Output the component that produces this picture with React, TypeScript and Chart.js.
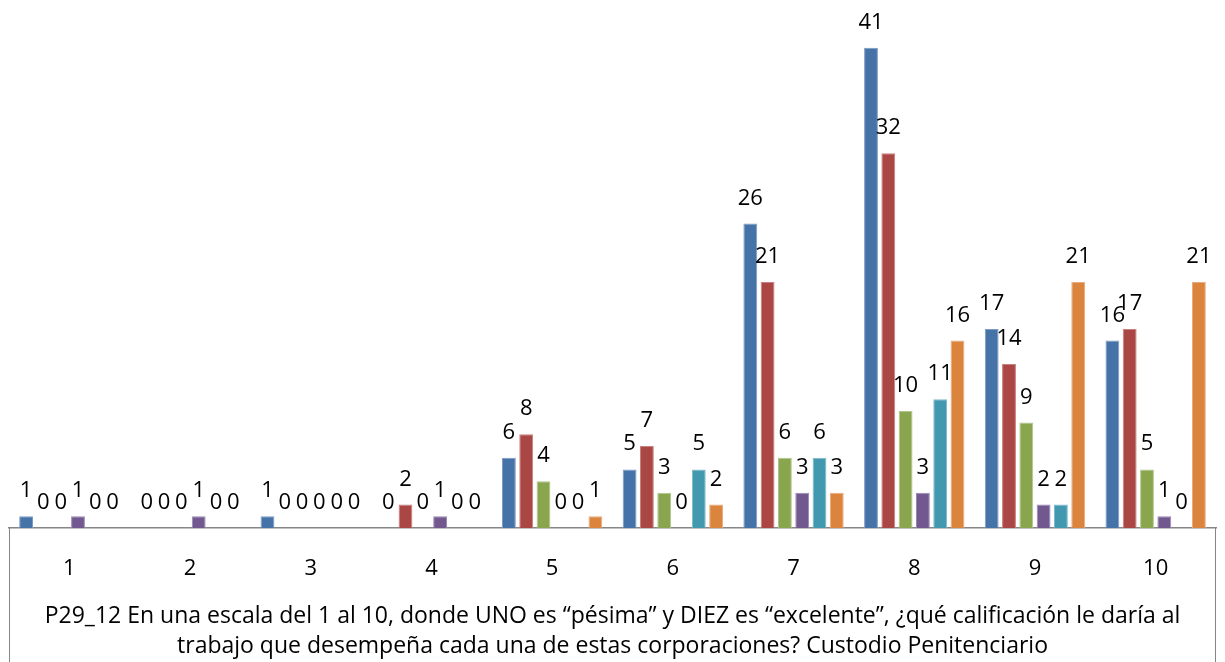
import { useEffect, useRef } from "react";
import { Chart, registerables } from "chart.js";

Chart.register(...registerables);

const categories = ["1", "2", "3", "4", "5", "6", "7", "8", "9", "10"];
const serie1 = [1, 0, 1, 0, 6, 5, 26, 41, 17, 16];
const serie2 = [0, 0, 0, 2, 8, 7, 21, 32, 14, 17];
const serie3 = [0, 0, 0, 0, 4, 3, 6, 10, 9, 5];
const serie4 = [1, 1, 0, 1, 0, 0, 3, 3, 2, 1];
const serie5 = [0, 0, 0, 0, 0, 5, 6, 11, 2, 0];
const serie6 = [0, 0, 0, 0, 1, 2, 3, 16, 21, 21];
const seriesNames = ["Serie 1", "Serie 2", "Serie 3", "Serie 4", "Serie 5", "Serie 6"];
const titleLines = [
  "P29_12 En una escala del 1 al 10, donde UNO es \u201cp\u00e9sima\u201d y DIEZ es \u201cexcelente\u201d, \u00bfqu\u00e9 calificaci\u00f3n le dar\u00eda al",
  "trabajo que desempe\u00f1a cada una de estas corporaciones? Custodio Penitenciario",
];

const colors = ["#4572A7", "#AA4643", "#89A54E", "#71588F", "#4198AF", "#DB843D"];
const edgeColors = ["#7E9BC4", "#C8807E", "#B0C68C", "#9C88B4", "#7EBACB", "#EAAB7D"];
const FONT = "'Open Sans', 'Noto Sans', sans-serif";

const labelPlugin = {
  id: "barValueLabels",
  afterDatasetsDraw(chart: any) {
    const ctx = chart.ctx;
    ctx.save();
    ctx.font = `22px ${FONT}`;
    ctx.fillStyle = "#000";
    ctx.textAlign = "center";
    ctx.textBaseline = "alphabetic";
    chart.data.datasets.forEach((ds: any, i: number) => {
      const meta = chart.getDatasetMeta(i);
      meta.data.forEach((el: any, j: number) => {
        ctx.fillText(String(ds.data[j]), el.x, el.y - 19);
      });
    });
    ctx.restore();
  },
};

const boxPlugin = {
  id: "axisBox",
  afterDraw(chart: any) {
    const ctx = chart.ctx;
    const { left, right, bottom } = chart.chartArea;
    ctx.save();
    ctx.strokeStyle = "#868686";
    ctx.lineWidth = 1;
    ctx.beginPath();
    ctx.moveTo(left + 0.5, bottom);
    ctx.lineTo(left + 0.5, chart.height);
    ctx.moveTo(right - 0.5, bottom);
    ctx.lineTo(right - 0.5, chart.height);
    ctx.stroke();
    ctx.restore();
  },
};

export default function App() {
  const ref = useRef<HTMLCanvasElement | null>(null);
  useEffect(() => {
    document.body.style.margin = "0";
    const series = [serie1, serie2, serie3, serie4, serie5, serie6];
    const chart = new Chart(ref.current as HTMLCanvasElement, {
      type: "bar",
      data: {
        labels: categories,
        datasets: series.map((d, i) => ({
          label: seriesNames[i],
          data: d,
          backgroundColor: colors[i],
          borderColor: edgeColors[i],
          borderWidth: 1,
          categoryPercentage: 0.86,
          barPercentage: 0.8,
        })),
      },
      options: {
        responsive: false,
        animation: false,
        layout: { padding: { top: 1, left: 9, right: 9, bottom: 0 } },
        plugins: { legend: { display: false }, tooltip: { enabled: false } },
        scales: {
          y: { display: false, min: 0, max: 45 },
          x: {
            grid: { display: false, drawTicks: false },
            border: { display: true, color: "#868686", width: 1.5 },
            ticks: { color: "#000", font: { family: FONT, size: 22 }, padding: 28 },
            title: {
              display: true,
              text: titleLines,
              color: "#000",
              font: { family: FONT, size: 23, lineHeight: 1.3 },
              padding: { top: 0, bottom: 1 },
            },
            afterFit(scale: any) {
              scale.height = 134;
            },
          },
        },
      },
      plugins: [labelPlugin, boxPlugin],
    });
    return () => chart.destroy();
  }, []);
  return (
    <div style={{ width: 1225, height: 662 }}>
      <canvas ref={ref} width={1225} height={662} />
    </div>
  );
}
